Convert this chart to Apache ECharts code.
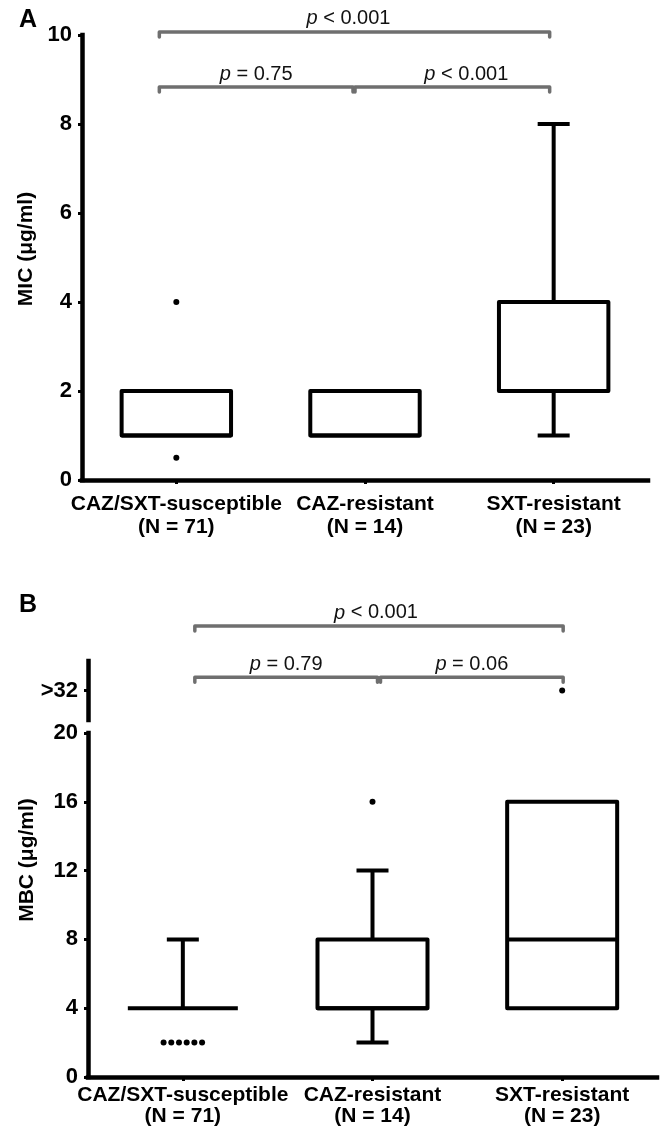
<!DOCTYPE html>
<html><head><meta charset="utf-8">
<script src="https://cdn.jsdelivr.net/npm/echarts@6/dist/echarts.min.js"></script>
<style>html,body{margin:0;padding:0;background:#fff}#c{width:660px;height:1127px}</style>
</head><body><div id="c"></div>
<script>
// ---- data ----
const categories = ['CAZ/SXT-susceptible', 'CAZ-resistant', 'SXT-resistant'];
const groupN = [71, 14, 23];
// boxes: [min, Q1, median, Q3, max]
const micBoxes = [[1, 1, 1, 2, 2], [1, 1, 1, 2, 2], [1, 2, 2, 4, 8]];
// outliers: [category index, value, number of points]
const micOutliers = [[0, 4, 1], [0, 0.5, 1]];
const mbcBoxes = [[4, 4, 4, 4, 8], [2, 4, 4, 8, 12], [4, 4, 8, 16, 16]];
const mbcOutliers = [[0, 2, 6], [1, 16, 1]];
const mbcHighOutliers = [[2, 32, 1]];
const micTickInterval = 2;
const mbcTickInterval = 4;
const mbcHighTick = 32;
const mbcHighTickLabel = '>32';
// brackets: [from category, to category, level]
const micBrackets = [[0, 2, 10.07], [0, 1, 8.83], [1, 2, 8.83]];
const micBracketLabels = ['< 0.001', '= 0.75', '< 0.001'];
const mbcBrackets = [[0, 2, 40.75], [0, 1, 33.8], [1, 2, 33.8]];
const mbcBracketLabels = ['< 0.001', '= 0.79', '= 0.06'];

// ---- rendering ----
const FONT = '"Liberation Sans", Arial, sans-serif';
const chart = echarts.init(document.getElementById('c'), null, {renderer: 'canvas'});

function boxRender(params, api) {
  const c = api.value(0);
  const v = [1, 2, 3, 4, 5].map(i => api.value(i));
  const bw = api.size([1, 0])[0];
  const hw = bw * 0.29, cw = 16;
  const x = api.coord([c, v[0]])[0];
  const Y = val => api.coord([c, val])[1];
  const st = {stroke: '#000', lineWidth: 4, fill: null, lineJoin: 'round', lineCap: 'butt'};
  const ch = [];
  if (v[3] > v[1]) {
    ch.push({type: 'rect', shape: {x: x - hw, y: Y(v[3]), width: 2 * hw, height: Y(v[1]) - Y(v[3])}, style: st});
  }
  ch.push({type: 'line', shape: {x1: x - hw, y1: Y(v[2]), x2: x + hw, y2: Y(v[2])}, style: st});
  if (v[4] > v[3]) {
    ch.push({type: 'line', shape: {x1: x, y1: Y(v[3]), x2: x, y2: Y(v[4])}, style: st});
    ch.push({type: 'line', shape: {x1: x - cw, y1: Y(v[4]), x2: x + cw, y2: Y(v[4])}, style: st});
  }
  if (v[0] < v[1]) {
    ch.push({type: 'line', shape: {x1: x, y1: Y(v[1]), x2: x, y2: Y(v[0])}, style: st});
    ch.push({type: 'line', shape: {x1: x - cw, y1: Y(v[0]), x2: x + cw, y2: Y(v[0])}, style: st});
  }
  return {type: 'group', children: ch};
}

function dotRender(params, api) {
  const p = api.coord([api.value(0), api.value(1)]);
  const n = api.value(2);
  const gap = 7.7;
  const ch = [];
  for (let k = 0; k < n; k++) {
    ch.push({type: 'circle', shape: {cx: p[0] + (k - (n - 1) / 2) * gap, cy: p[1], r: 3}, style: {fill: '#000'}});
  }
  return {type: 'group', children: ch};
}

function bracketRender(labels, inset, labelShift) {
  return function (params, api) {
    const from = api.value(0), to = api.value(1), lvl = api.value(2);
    const p0 = api.coord([from, lvl]), p1 = api.coord([to, lvl]);
    const x0 = p0[0] + (from === 0 ? inset.first : inset.midStart);
    const x1 = p1[0] + (to === 2 ? inset.last : inset.midEnd);
    const y = p0[1];
    const lab = labels[params.dataIndex];
    const dx = labelShift[params.dataIndex] || 0;
    return {type: 'group', children: [
      {type: 'polyline', shape: {points: [[x0, y + 5], [x0, y], [x1, y], [x1, y + 5]]},
        style: {stroke: '#6f6f6f', lineWidth: 3.5, fill: null, lineJoin: 'round', lineCap: 'round'}},
      {type: 'text', x: (x0 + x1) / 2 + dx, y: y - 3,
        style: {text: '{i|p} {n|' + lab + '}', align: 'center', verticalAlign: 'bottom',
          fontSize: 20, fontFamily: FONT, fill: '#111',
          rich: {
            i: {fontStyle: 'italic', fontSize: 20, fontFamily: FONT, fill: '#111'},
            n: {fontSize: 20, fontFamily: FONT, fill: '#111'}
          }}}
    ]};
  };
}

const axisLineStyle = {color: '#000', width: 4.5, cap: 'square'};
const catLabels = categories.map((c, i) => c + '\n(N = ' + groupN[i] + ')');

function catAxis(gridIndex, margin, lineHeight, show) {
  return {
    type: 'category', gridIndex, data: catLabels, show,
    axisLine: {show: true, lineStyle: axisLineStyle},
    axisTick: {show: true, alignWithLabel: true, length: 4, lineStyle: {color: '#000', width: 3}},
    axisLabel: {interval: 0, margin, color: '#000', fontFamily: FONT, fontWeight: 'bold', fontSize: 21, lineHeight},
    splitLine: {show: false}
  };
}
function valAxis(gridIndex, min, max, interval) {
  return {
    type: 'value', gridIndex, min, max, interval,
    axisLine: {show: true, lineStyle: axisLineStyle},
    axisTick: {show: true, length: 4, lineStyle: {color: '#000', width: 3}},
    axisLabel: {margin: 10, color: '#000', fontFamily: FONT, fontWeight: 'bold', fontSize: 22},
    splitLine: {show: false}
  };
}

const highY = valAxis(1, 28, 36, 4);
highY.axisTick.customValues = [mbcHighTick];
highY.axisLabel.customValues = [mbcHighTick];
highY.axisLabel.formatter = () => mbcHighTickLabel;

const option = {
  animation: false,
  backgroundColor: '#fff',
  grid: [
    {left: 82, right: 12, top: 35, height: 445},
    {left: 88, right: 3, top: 661, height: 59},
    {left: 88, right: 3, top: 733, height: 344}
  ],
  xAxis: [catAxis(0, 13, 23, true), catAxis(1, 8, 21, false), catAxis(2, 8, 21, true)],
  yAxis: [valAxis(0, 0, 10, micTickInterval), highY, valAxis(2, 0, 20, mbcTickInterval)],
  graphic: [
    {type: 'text', x: 28, y: 20, style: {text: 'A', fontSize: 25, fontWeight: 'bold', fontFamily: FONT, fill: '#000', align: 'center', verticalAlign: 'middle'}},
    {type: 'text', x: 28, y: 605, style: {text: 'B', fontSize: 25, fontWeight: 'bold', fontFamily: FONT, fill: '#000', align: 'center', verticalAlign: 'middle'}},
    {type: 'text', x: 26, y: 249, rotation: Math.PI / 2, style: {text: 'MIC (μg/ml)', fontSize: 21, fontWeight: 'bold', fontFamily: FONT, fill: '#000', align: 'center', verticalAlign: 'middle'}},
    {type: 'text', x: 27, y: 860, rotation: Math.PI / 2, style: {text: 'MBC (μg/ml)', fontSize: 21, fontWeight: 'bold', fontFamily: FONT, fill: '#000', align: 'center', verticalAlign: 'middle'}}
  ],
  series: [
    {type: 'custom', xAxisIndex: 0, yAxisIndex: 0, renderItem: boxRender, clip: false,
      data: micBoxes.map((b, i) => [i].concat(b)), encode: {x: 0, y: [1, 2, 3, 4, 5]}},
    {type: 'custom', xAxisIndex: 0, yAxisIndex: 0, renderItem: dotRender, clip: false,
      data: micOutliers, encode: {x: 0, y: 1}},
    {type: 'custom', xAxisIndex: 0, yAxisIndex: 0, clip: false,
      renderItem: bracketRender(micBracketLabels, {first: -17, midEnd: -12, midStart: -10, last: -4}, [-6, 0, 14]),
      data: micBrackets, encode: {x: [0, 1], y: 2}},
    {type: 'custom', xAxisIndex: 2, yAxisIndex: 2, renderItem: boxRender, clip: false,
      data: mbcBoxes.map((b, i) => [i].concat(b)), encode: {x: 0, y: [1, 2, 3, 4, 5]}},
    {type: 'custom', xAxisIndex: 2, yAxisIndex: 2, renderItem: dotRender, clip: false,
      data: mbcOutliers, encode: {x: 0, y: 1}},
    {type: 'custom', xAxisIndex: 1, yAxisIndex: 1, renderItem: dotRender, clip: false,
      data: mbcHighOutliers, encode: {x: 0, y: 1}},
    {type: 'custom', xAxisIndex: 1, yAxisIndex: 1, clip: false,
      renderItem: bracketRender(mbcBracketLabels, {first: 12, midEnd: 5, midStart: 8, last: 1}, [-3, 0, 0]),
      data: mbcBrackets, encode: {x: [0, 1], y: 2}}
  ]
};
chart.setOption(option);
</script>
</body></html>
